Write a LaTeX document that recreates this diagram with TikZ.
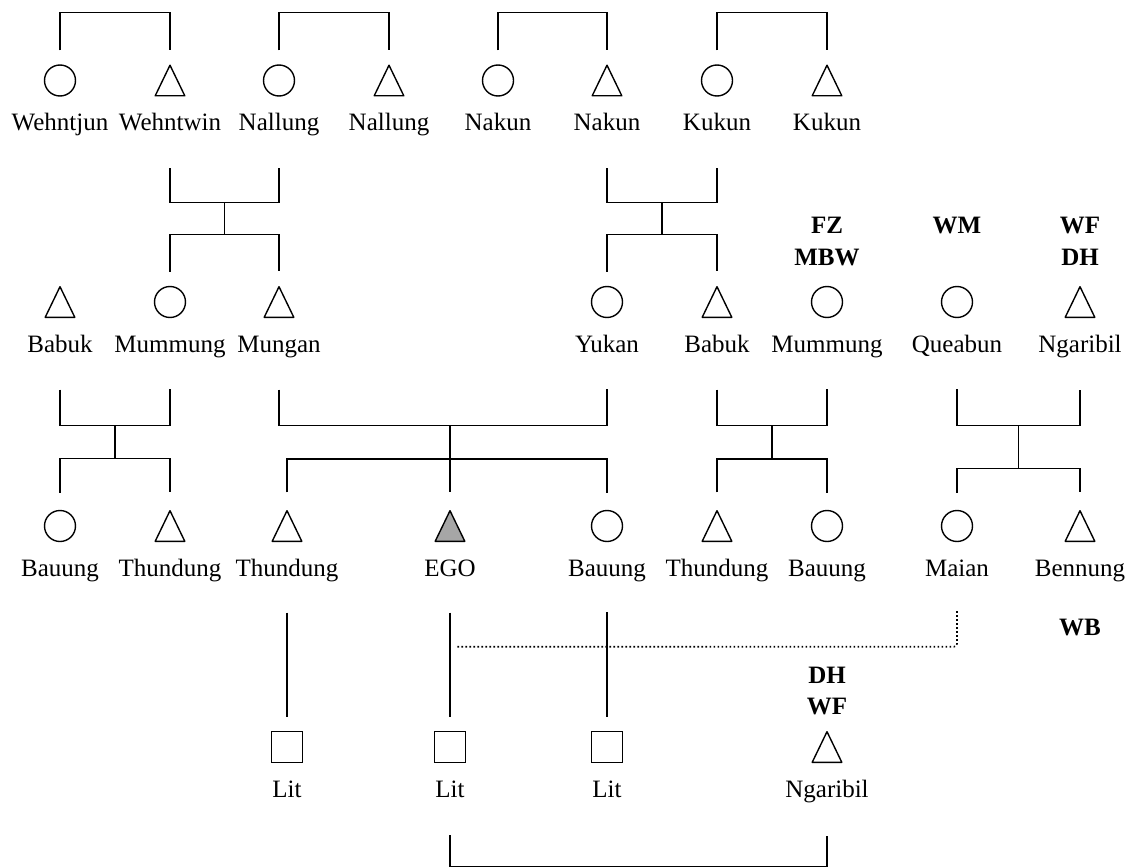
\documentclass[tikz,border=0pt]{standalone}
\usepackage{fontspec}
\setmainfont{Liberation Serif}
\usepackage{tikz}
\usetikzlibrary{positioning, calc}

\begin{document}
\begin{tikzpicture}[x=1pt, y=-1pt, line width=1.4pt,
	fem/.style={circle, draw, minimum size=31pt, inner sep=0pt},
	male/.style={rectangle, minimum width=31pt, minimum height=32pt, inner sep=0pt,
		path picture={\draw[line join=round, fill=#1]
			([shift={(0.7pt,0.7pt)}]path picture bounding box.south west) --
			([shift={(-0.7pt,0.7pt)}]path picture bounding box.south east) --
			([yshift=-0.7pt]path picture bounding box.north) -- cycle;}},
	male/.default=white,
	lit/.style={rectangle, draw, minimum size=31pt, inner sep=0pt},
	nm/.style={font=\fontsize{25}{30}\selectfont, inner sep=0pt, anchor=base},
	kin/.style={font=\fontsize{25}{30}\selectfont\bfseries, inner sep=0pt, anchor=base},
	kinlink/.style={line width=1.6pt, dash pattern=on 1.6pt off 2.4pt, rounded corners=3pt}]
	\useasboundingbox (0,0) rectangle (1136,867);
	% Nodes, first generation:
	\node[fem](wjf) at (60, 80.5){} node[nm](wjf-l) at ([yshift=-50pt]wjf.center){Wehntjun};
	\node[male](wwm) at (170, 80.5){} node[nm](wwm-l) at ([yshift=-50pt]wwm.center){Wehntwin};
	\node[fem](nlf) at (279, 80.5){} node[nm](nlf-l) at ([yshift=-50pt]nlf.center){Nallung};
	\node[male](nlm) at (389, 80.5){} node[nm](nlm-l) at ([yshift=-50pt]nlm.center){Nallung};
	\node[fem](nkf) at (498, 80.5){} node[nm](nkf-l) at ([yshift=-50pt]nkf.center){Nakun};
	\node[male](nkm) at (607, 80.5){} node[nm](nkm-l) at ([yshift=-50pt]nkm.center){Nakun};
	\node[fem](kkf) at (717, 80.5){} node[nm](kkf-l) at ([yshift=-50pt]kkf.center){Kukun};
	\node[male](kkm) at (827, 80.5){} node[nm](kkm-l) at ([yshift=-50pt]kkm.center){Kukun};
	% Nodes, second generation:
	\node[male](bbm1) at (60, 302){} node[nm](bbm1-l) at ([yshift=-50pt]bbm1.center){Babuk};
	\node[fem](mmf1) at (170, 302){} node[nm](mmf1-l) at ([yshift=-50pt]mmf1.center){Mummung};
	\node[male](mgm) at (279, 302){} node[nm](mgm-l) at ([yshift=-50pt]mgm.center){Mungan};
	\node[fem](ykf) at (607, 302){} node[nm](ykf-l) at ([yshift=-50pt]ykf.center){Yukan};
	\node[male](bbm2) at (717, 302){} node[nm](bbm2-l) at ([yshift=-50pt]bbm2.center){Babuk};
	\node[fem](mmf2) at (827, 302){} node[nm](mmf2-l) at ([yshift=-50pt]mmf2.center){Mummung};
	\node[fem](qbf) at (957, 302){} node[nm](qbf-l) at ([yshift=-50pt]qbf.center){Queabun};
	\node[male](ngm1) at (1080, 302){} node[nm](ngm1-l) at ([yshift=-50pt]ngm1.center){Ngaribil};
	\node[kin](k1) at (827, 233){FZ};
	\node[kin](k2) at (827, 265){MBW};
	\node[kin](k3) at (957, 233){WM};
	\node[kin](k4) at (1080, 233){WF};
	\node[kin](k5) at (1080, 265){DH};
	% Nodes, third generation:
	\node[fem](buf1) at (60, 526){} node[nm](buf1-l) at ([yshift=-50pt]buf1.center){Bauung};
	\node[male](thm1) at (170, 526){} node[nm](thm1-l) at ([yshift=-50pt]thm1.center){Thundung};
	\node[male](thm2) at (287, 526){} node[nm](thm2-l) at ([yshift=-50pt]thm2.center){Thundung};
	\node[male=black!35](ego) at (450, 526){} node[nm](ego-l) at ([yshift=-50pt]ego.center){EGO};
	\node[fem](buf2) at (607, 526){} node[nm](buf2-l) at ([yshift=-50pt]buf2.center){Bauung};
	\node[male](thm3) at (717, 526){} node[nm](thm3-l) at ([yshift=-50pt]thm3.center){Thundung};
	\node[fem](buf3) at (827, 526){} node[nm](buf3-l) at ([yshift=-50pt]buf3.center){Bauung};
	\node[fem](maf) at (957, 526){} node[nm](maf-l) at ([yshift=-50pt]maf.center){Maian};
	\node[male](bnm) at (1080, 526){} node[nm](bnm-l) at ([yshift=-50pt]bnm.center){Bennung};
	\node[kin](k6) at (1080, 635){WB};
	% Nodes, fourth generation:
	\node[lit](lit1) at (287, 747){} node[nm](lit1-l) at ([yshift=-50pt]lit1.center){Lit};
	\node[lit](lit2) at (450, 747){} node[nm](lit2-l) at ([yshift=-50pt]lit2.center){Lit};
	\node[lit](lit3) at (607, 747){} node[nm](lit3-l) at ([yshift=-50pt]lit3.center){Lit};
	\node[male](ngm2) at (827, 747){} node[nm](ngm2-l) at ([yshift=-50pt]ngm2.center){Ngaribil};
	\node[kin](k7) at (827, 683){DH};
	\node[kin](k8) at (827, 714){WF};
	% Sibling brackets, first generation:
	\draw ([yshift=14pt]wjf.north) |- ([yshift=51pt]wwm.north) -- ([yshift=14pt]wwm.north);
	\draw ([yshift=14pt]nlf.north) |- ([yshift=51pt]nlm.north) -- ([yshift=14pt]nlm.north);
	\draw ([yshift=14pt]nkf.north) |- ([yshift=51pt]nkm.north) -- ([yshift=14pt]nkm.north);
	\draw ([yshift=14pt]kkf.north) |- ([yshift=51pt]kkm.north) -- ([yshift=14pt]kkm.north);
	% Marriages and children:
	\draw ([yshift=-71pt]wwm.south) |- coordinate[pos=0.75](m1) ([yshift=-106pt]nlf.south) -- ([yshift=-71pt]nlf.south);
	\draw ([yshift=14pt]mmf1.north) |- coordinate[pos=0.75](s1) ([yshift=51pt]mgm.north) -- ([yshift=14pt]mgm.north);
	\draw (m1) -- (s1);
	\draw ([yshift=-71pt]nkm.south) |- coordinate[pos=0.75](m2) ([yshift=-106pt]kkf.south) -- ([yshift=-71pt]kkf.south);
	\draw ([yshift=14pt]ykf.north) |- coordinate[pos=0.75](s2) ([yshift=51pt]bbm2.north) -- ([yshift=14pt]bbm2.north);
	\draw (m2) -- (s2);
	\draw ([yshift=-71pt]bbm1.south) |- coordinate[pos=0.75](m3) ([yshift=-107pt]mmf1.south) -- ([yshift=-71pt]mmf1.south);
	\draw ([yshift=17pt]buf1.north) |- coordinate[pos=0.75](s3) ([yshift=51pt]thm1.north) -- ([yshift=17pt]thm1.north);
	\draw (m3) -- (s3);
	\draw ([yshift=-71pt]mgm.south) |- coordinate[pos=0.75](m4) ([yshift=-107pt]ykf.south) -- ([yshift=-71pt]ykf.south);
	\draw ([yshift=17pt]thm2.north) |- ([yshift=51pt]buf2.north) -- ([yshift=17pt]buf2.north);
	\draw (ego |- m4) -- ([yshift=17pt]ego.north);
	\draw ([yshift=-71pt]bbm2.south) |- coordinate[pos=0.75](m5) ([yshift=-107pt]mmf2.south) -- ([yshift=-71pt]mmf2.south);
	\draw ([yshift=17pt]thm3.north) |- coordinate[pos=0.75](s5) ([yshift=51pt]buf3.north) -- ([yshift=17pt]buf3.north);
	\draw (m5) -- (s5);
	\draw ([yshift=-71pt]qbf.south) |- coordinate[pos=0.75](m6) ([yshift=-107pt]ngm1.south) -- ([yshift=-71pt]ngm1.south);
	\draw ([yshift=17pt]maf.north) |- coordinate[pos=0.75](s6) ([yshift=41pt]bnm.north) -- ([yshift=17pt]bnm.north);
	\draw (m6) -- (s6);
	% Descent lines:
	\draw ([yshift=-70pt]thm2.south) -- ([yshift=14pt]lit1.north);
	\draw ([yshift=-70pt]ego.south) -- ([yshift=14pt]lit2.north);
	\draw ([yshift=-70pt]buf2.south) -- ([yshift=14pt]lit3.north);
	\draw[kinlink] ([yshift=-69pt]maf.south) |- ([shift={(7pt,-104pt)}]ego.south);
	\draw ([yshift=-72pt]lit2.south) |- ([yshift=-103pt]ngm2.south) -- ([yshift=-72pt]ngm2.south);
\end{tikzpicture}
\end{document}
